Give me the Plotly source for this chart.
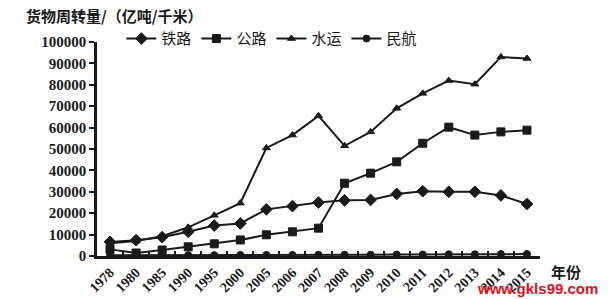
import plotly.graph_objects as go

years = ['1978', '1980', '1985', '1990', '1995', '2000', '2005', '2006', '2007',
         '2008', '2009', '2010', '2011', '2012', '2013', '2014', '2015']
rail = [6600, 7400, 8800, 11300, 14200, 15200, 21800, 23300, 25000,
        26000, 26200, 29000, 30300, 30000, 30000, 28300, 24300]
road = [3100, 1400, 2800, 4300, 5700, 7500, 9900, 11300, 13000,
        34000, 38700, 44000, 52700, 60200, 56500, 58000, 58800]
water = [6000, 7000, 9200, 13400, 19000, 24700, 50500, 56500, 65500,
         51500, 58000, 69000, 76000, 82000, 80300, 93000, 92300]
air = [300, 300, 300, 400, 400, 500, 500, 500, 600,
       600, 600, 700, 700, 800, 800, 900, 900]
names = ['铁路', '公路', '水运', '民航']
symbols = ['diamond', 'square', 'triangle-up', 'circle']
sizes = [9, 8, 7, 7]

ink = '#1a1a1a'
cjk = 'Noto Sans CJK SC'
serif = 'Liberation Serif'

fig = go.Figure()
for name, vals, sym, sz in zip(names, [rail, road, water, air], symbols, sizes):
    fig.add_trace(go.Scatter(
        x=years, y=vals, name=name, mode='lines+markers',
        line=dict(color=ink, width=2),
        marker=dict(symbol=sym, size=sz, color=ink,
                    line=dict(color=ink, width=1)),
    ))

fig.update_layout(
    width=613, height=299,
    margin=dict(l=97, r=73, t=42, b=43),
    paper_bgcolor='white', plot_bgcolor='white',
    showlegend=True,
    legend=dict(orientation='h', x=0.055, y=1.015, xanchor='left', yanchor='middle',
                font=dict(family=cjk, size=15, color=ink),
                bgcolor='rgba(0,0,0,0)', itemwidth=30, tracegroupgap=0),
    font=dict(family=serif, color=ink),
)
fig.update_xaxes(
    type='category', range=[-0.5, 16.5], automargin=False,
    showline=True, linecolor=ink, linewidth=2.5,
    ticks='inside', tickson='boundaries', ticklen=5, tickwidth=2, tickcolor=ink,
    tickangle=-45, tickfont=dict(family=serif, size=14, color=ink, weight='bold'),
    showgrid=False, zeroline=False,
)
fig.update_yaxes(
    range=[0, 100000], dtick=10000, tickformat='d', automargin=False,
    showline=True, linecolor=ink, linewidth=2.5,
    ticks='outside', ticklen=5, tickwidth=2, tickcolor=ink,
    tickfont=dict(family=serif, size=15, color=ink, weight='bold'),
    showgrid=False, zeroline=False,
)
fig.add_annotation(text='货物周转量/（亿吨/千米）', xref='paper', yref='paper',
                   x=-0.165, y=1.125, xanchor='left', yanchor='middle',
                   showarrow=False, font=dict(family=cjk, size=15, color=ink, weight='bold'))
fig.add_annotation(text='年份', xref='paper', yref='paper',
                   x=1.02, y=0, xanchor='left', yanchor='top', yshift=-3,
                   showarrow=False, font=dict(family=cjk, size=15, color=ink, weight='bold'))
fig.add_annotation(text='www.gkls99.com', xref='paper', yref='paper',
                   x=1.135, y=0, xanchor='right', yanchor='middle', yshift=-32,
                   showarrow=False, font=dict(family='Liberation Sans', size=15, color='#e0101a', weight='bold'))

fig.write_html('out.html')
